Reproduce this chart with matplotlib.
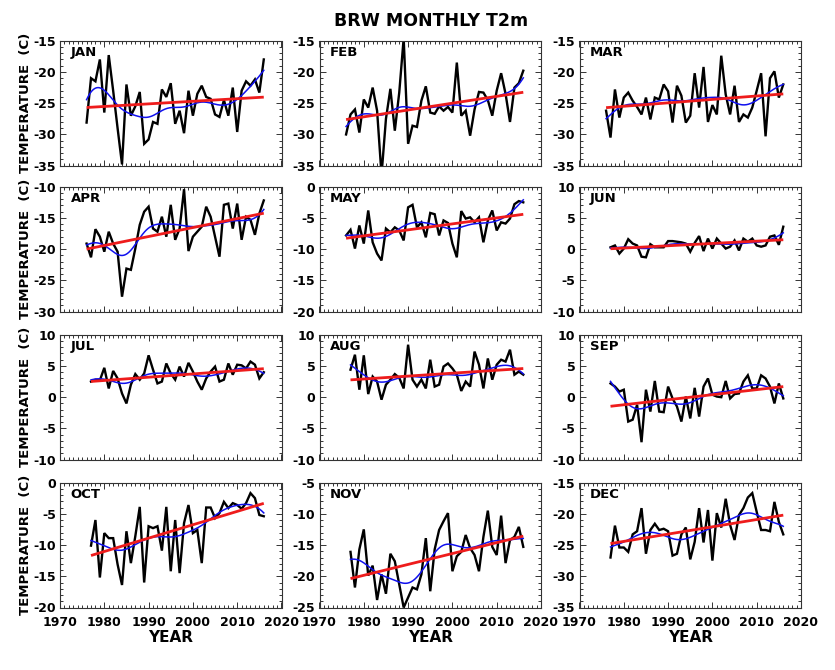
import numpy as np
import matplotlib
matplotlib.use("Agg")
import matplotlib.pyplot as plt
from matplotlib.ticker import MultipleLocator

plt.rcParams['axes.unicode_minus'] = False
plt.rcParams['font.family'] = ['DejaVu Sans']
plt.rcParams['font.weight'] = 'bold'

# ---------------- data ----------------
months = ['JAN', 'FEB', 'MAR', 'APR', 'MAY', 'JUN',
          'JUL', 'AUG', 'SEP', 'OCT', 'NOV', 'DEC']
start_years = [1976, 1976, 1976, 1976, 1976, 1977,
               1977, 1977, 1977, 1977, 1977, 1977]

JAN = [-28.1, -21.0, -21.5, -18.0, -26.5, -17.3, -23.0, -29.0, -34.8, -22.0,
       -27.0, -25.5, -23.2, -31.5, -30.8, -28.0, -28.3, -22.8, -24.0, -21.8,
       -28.3, -26.2, -29.8, -23.0, -27.0, -23.5, -22.2, -24.0, -24.3, -26.8,
       -27.2, -24.5, -27.0, -22.5, -29.6, -23.0, -21.5, -22.2, -21.2, -23.3, -18.0]
FEB = [-30.0, -26.8, -26.0, -29.7, -24.4, -25.7, -22.5, -26.2, -36.5, -27.5,
       -22.7, -29.4, -23.3, -14.6, -31.5, -28.6, -28.8, -24.6, -22.3, -26.5,
       -26.7, -25.5, -26.2, -25.6, -26.5, -18.5, -27.0, -26.2, -30.2, -26.0,
       -23.2, -23.3, -24.5, -27.0, -23.0, -20.2, -23.5, -28.0, -22.5, -21.8, -19.8]
MAR = [-26.2, -30.5, -22.8, -27.3, -24.1, -23.3, -24.6, -25.6, -26.8, -24.1,
       -27.6, -24.1, -24.4, -22.0, -23.1, -28.1, -22.2, -23.8, -28.1, -27.0,
       -20.2, -25.7, -19.2, -28.0, -25.3, -26.8, -17.4, -23.6, -26.8, -22.2,
       -28.0, -26.8, -27.3, -25.7, -23.0, -20.2, -30.3, -21.0, -19.9, -24.1, -22.0]
APR = [-19.1, -21.3, -16.8, -18.0, -20.4, -17.2, -19.1, -20.4, -27.6, -23.1,
       -23.3, -19.9, -16.1, -14.0, -13.2, -16.7, -17.2, -14.8, -18.0, -12.9,
       -18.5, -16.7, -10.4, -20.3, -18.0, -17.2, -16.4, -13.2, -14.8, -18.0,
       -21.2, -12.9, -12.7, -16.7, -12.7, -18.5, -14.8, -15.3, -17.7, -14.3, -12.2]
MAY = [-7.8, -6.9, -9.9, -6.2, -9.1, -3.8, -8.9, -10.7, -11.8, -6.7,
       -7.3, -6.5, -7.0, -8.6, -3.3, -2.9, -6.5, -5.7, -8.1, -4.2,
       -4.4, -7.8, -5.4, -5.8, -9.1, -11.3, -3.9, -5.1, -4.9, -5.7,
       -4.9, -8.9, -5.4, -3.8, -7.0, -5.7, -5.9, -5.1, -2.8, -2.3, -2.5]
JUN = [0.3, 0.6, -0.7, 0.1, 1.6, 0.9, 0.6, -1.2, -1.3, 0.8,
       0.3, 0.3, 0.3, 1.3, 1.3, 1.2, 1.1, 0.9, -0.4, 1.0,
       2.1, -0.3, 1.7, 0.1, 1.7, 0.9, 0.1, 0.4, 1.4, -0.2,
       1.7, 1.2, 1.7, 0.6, 0.4, 0.6, 2.0, 2.2, 0.7, 3.6]
JUL = [2.5, 2.8, 2.7, 4.7, 1.4, 4.2, 3.0, 0.6, -1.0, 2.0,
       3.7, 2.8, 3.8, 6.7, 4.4, 2.2, 2.5, 5.4, 3.8, 2.8,
       4.9, 3.3, 5.5, 4.1, 2.5, 1.2, 3.0, 4.1, 4.9, 2.5,
       2.8, 5.4, 3.6, 5.2, 5.1, 4.6, 5.7, 5.2, 3.0, 4.0]
AUG = [4.4, 6.8, 1.2, 6.7, 0.5, 3.3, 2.5, -0.4, 2.0, 2.8,
       3.7, 3.1, 1.4, 8.4, 2.8, 1.7, 2.8, 1.4, 6.0, 1.7,
       2.0, 4.9, 5.4, 4.6, 3.6, 1.0, 2.5, 1.7, 7.3, 5.2,
       1.4, 6.2, 2.8, 5.2, 6.0, 5.7, 7.6, 3.6, 4.1, 3.6]
SEP = [2.2, 1.7, 0.9, 1.2, -3.9, -3.6, -1.2, -7.2, 1.2, -2.3,
       2.6, -2.3, -2.4, 1.7, -0.2, -1.5, -3.9, 0.1, -3.4, 1.5,
       -3.1, 1.7, 3.0, 0.4, 0.1, 0.0, 2.6, -0.2, 0.5, 0.6,
       2.5, 3.5, 1.4, 1.4, 3.5, 3.0, 1.7, -1.0, 2.2, -0.2]
OCT = [-10.1, -6.0, -15.2, -8.1, -8.9, -8.9, -13.1, -16.4, -7.8, -12.9,
       -8.6, -3.9, -16.0, -7.0, -7.3, -7.0, -10.9, -3.9, -14.2, -6.0,
       -14.5, -6.5, -3.6, -8.1, -7.6, -12.9, -4.0, -4.0, -5.7, -4.9,
       -3.1, -4.1, -3.3, -3.6, -4.2, -3.3, -1.7, -2.5, -5.2, -5.4]
NOV = [-16.1, -21.8, -15.7, -12.5, -19.9, -18.3, -23.8, -19.7, -22.8, -16.4,
       -17.6, -21.3, -25.0, -23.4, -21.8, -22.1, -19.7, -13.9, -22.4, -15.7,
       -12.6, -11.2, -9.9, -19.2, -16.8, -16.1, -13.4, -15.5, -16.6, -19.2,
       -13.7, -9.5, -15.3, -16.6, -10.3, -17.9, -14.2, -13.7, -12.1, -15.3]
DEC = [-27.0, -21.9, -25.4, -25.4, -26.1, -23.3, -22.8, -19.1, -26.4, -22.6,
       -21.6, -22.6, -22.4, -22.8, -26.7, -26.4, -23.3, -22.2, -27.3, -24.5,
       -19.1, -24.6, -19.4, -27.5, -19.9, -22.2, -17.6, -21.8, -24.2, -20.2,
       -19.1, -17.4, -16.7, -19.7, -22.6, -22.6, -22.8, -18.1, -21.3, -23.3]

series = [JAN, FEB, MAR, APR, MAY, JUN, JUL, AUG, SEP, OCT, NOV, DEC]
y_lower = [-35, -35, -35, -30, -20, -10, -10, -10, -10, -20, -25, -35]
y_upper = [-15, -15, -15, -10, 0, 10, 10, 10, 10, 0, -5, -15]
x_ticks = [1970, 1980, 1990, 2000, 2010, 2020]
title = 'BRW MONTHLY T2m'


def local_linear_smooth(x, y, xs, sigma=2.8):
    """Gaussian-weighted local linear regression of y on x, evaluated at xs."""
    out = np.empty_like(xs, dtype=float)
    for k, x0 in enumerate(xs):
        w = np.exp(-0.5 * ((x - x0) / sigma) ** 2)
        sw = w.sum()
        xm = (w * x).sum() / sw
        ym = (w * y).sum() / sw
        b = (w * (x - xm) * (y - ym)).sum() / (w * (x - xm) ** 2).sum()
        out[k] = ym + b * (x0 - xm)
    return out


# ---------------- figure ----------------
W, H = 835, 670
fig = plt.figure(figsize=(W / 100, H / 100), dpi=100)

col_left = [60, 319.5, 579.5]
row_top = [40.7, 186.7, 334.7, 482.5]
aw, ah = 221.5, 125.0

for i, (name, vals) in enumerate(zip(months, series)):
    r, c = divmod(i, 3)
    ax = fig.add_axes([col_left[c] / W, 1 - (row_top[r] + ah) / H, aw / W, ah / H])
    yrs = np.arange(start_years[i], start_years[i] + len(vals))
    v = np.asarray(vals, dtype=float)

    ax.plot(yrs, v, color='black', lw=1.7, zorder=2, solid_joinstyle='miter')
    xs = np.linspace(yrs[0], yrs[-1], 300)
    ax.plot(xs, local_linear_smooth(yrs.astype(float), v, xs),
            color='#1010ee', lw=1.1, zorder=3)
    coef = np.polyfit(yrs, v, 1)
    ax.plot([yrs[0], yrs[-1]], np.polyval(coef, [yrs[0], yrs[-1]]),
            color='#ee1c1c', lw=2.0, zorder=4, solid_capstyle='butt')

    ax.set_xlim(1970, 2020)
    ax.set_ylim(y_lower[i], y_upper[i])
    ax.set_xticks(x_ticks)
    ax.yaxis.set_major_locator(MultipleLocator(5))
    ax.xaxis.set_minor_locator(MultipleLocator(1))
    ax.yaxis.set_minor_locator(MultipleLocator(1))
    ax.tick_params(which='both', direction='in', top=True, right=True,
                   width=0.7, colors='#333333', labelcolor='black')
    ax.tick_params(which='major', length=4)
    ax.tick_params(which='minor', length=2)
    ax.tick_params(axis='y', labelsize=9, pad=3)
    ax.tick_params(axis='x', labelsize=9, pad=6)
    for lab in ax.get_xticklabels() + ax.get_yticklabels():
        lab.set_fontweight('bold')
    for s in ax.spines.values():
        s.set_color('#333333')
        s.set_linewidth(0.8)

    if r < 3:
        ax.set_xticklabels([])
    else:
        ax.set_xlabel('YEAR', fontsize=11, fontweight='bold', labelpad=1)

    ax.text(0.048, 0.96, name, transform=ax.transAxes, ha='left', va='top',
            fontsize=9.5, fontweight='bold')

    if c == 0:
        fig.text(26 / W, 1 - (row_top[r] + ah / 2) / H, 'TEMPERATURE  (C)',
                 rotation=90, ha='center', va='center',
                 fontsize=9.5, fontweight='bold')

fig.text(431 / W, 1 - 21 / H, title, ha='center', va='center',
         fontsize=12.5, fontweight='bold')

fig.savefig('out.png', dpi=100)
